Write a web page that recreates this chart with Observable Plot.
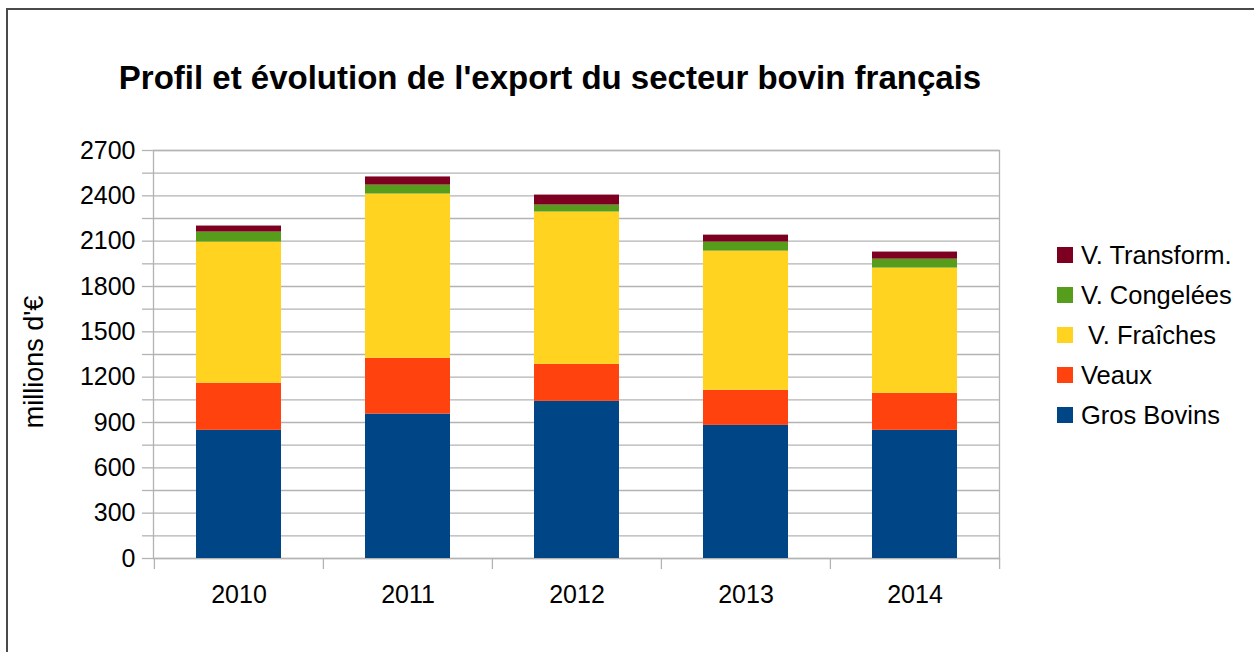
<!DOCTYPE html>
<html>
<head>
<meta charset="utf-8">
<script src="https://cdn.jsdelivr.net/npm/d3@7"></script>
<script src="https://cdn.jsdelivr.net/npm/@observablehq/plot@0.6"></script>
<style>
  html, body { margin: 0; padding: 0; background: #fff; overflow: hidden; }
  #wrap { position: relative; width: 1254px; height: 652px; font-family: "Liberation Sans", Arial, sans-serif; }
  #border { position: absolute; left: 6px; top: 8px; width: 1300px; height: 700px; border: 2px solid #4a4a4a; box-sizing: border-box; }
  #title { position: absolute; left: 0; width: 1100px; top: 59px; text-align: center; font-weight: bold; font-size: 33px; color: #000; white-space: nowrap; }
  #ylabel { position: absolute; left: 34px; top: 362px; transform: translate(-50%, -50%) rotate(-90deg); font-size: 27px; color: #000; white-space: nowrap; }
  #legend { position: absolute; left: 1057px; top: 235px; }
  .row { display: flex; align-items: center; height: 40px; font-size: 25.5px; color: #000; white-space: pre; }
  .sw { width: 16px; height: 16px; margin-right: 8px; flex: none; }
  #chart { position: absolute; left: 0; top: 0; }
</style>
</head>
<body>
<div id="wrap">
  <div id="chart"></div>
  <div id="border"></div>
  <div id="title"></div>
  <div id="ylabel"></div>
  <div id="legend"></div>
</div>
<script>
const title = "Profil et évolution de l'export du secteur bovin français";
const yLabel = "millions d'€";
const years = ["2010", "2011", "2012", "2013", "2014"];
const seriesNames = ["Gros Bovins", "Veaux", " V. Fraîches", "V. Congelées", "V. Transform."];
const seriesColors = ["#004586", "#ff420e", "#ffd320", "#579d1c", "#7e0021"];
const grosBovins = [848, 956, 1040, 881, 848];
const veaux = [312, 369, 245, 232, 245];
const vFraiches = [934, 1087, 1008, 921, 829];
const vCongelees = [66, 59, 46, 60, 59];
const vTransform = [40, 54, 66, 46, 47];
const yTicks = d3.range(0, 2701, 150);

const seriesValues = [grosBovins, veaux, vFraiches, vCongelees, vTransform];
const data = [];
seriesNames.forEach((s, i) => years.forEach((y, j) => data.push({year: y, series: s, value: seriesValues[i][j]})));

const W = 1254, H = 652, mL = 153, mR = 255, mT = 150, mB = 94;
const step = (W - mL - mR) / years.length;

const chart = Plot.plot({
  width: W, height: H,
  marginLeft: mL, marginRight: mR, marginTop: mT, marginBottom: mB,
  style: {fontFamily: "'Liberation Sans', Arial, sans-serif", fontSize: "25px", color: "#000", background: "transparent"},
  x: {domain: years, padding: 0, label: null},
  y: {domain: [0, 2700], label: null},
  color: {domain: seriesNames, range: seriesColors},
  marks: [
    Plot.gridY(yTicks, {stroke: "#b3b3b3", strokeOpacity: 1, strokeWidth: 1.3}),
    Plot.frame({stroke: "#b3b3b3", strokeWidth: 1.3}),
    Plot.barY(data, Plot.stackY({x: "year", y: "value", fill: "series", order: seriesNames, insetLeft: 42, insetRight: 42})),
    Plot.axisY(yTicks, {tickSize: 11, tickPadding: 7, stroke: "#b3b3b3", strokeWidth: 1.3, tickFormat: d => d % 300 === 0 ? String(d) : "", fontSize: 25, fill: "#000", label: null}),
    Plot.axisX({tickSize: 0, tickPadding: 27, fontSize: 25, fill: "#000", label: null}),
    Plot.ruleX(years, {x: d => d, dx: -step / 2, insetTop: H - mT - mB, insetBottom: -11, stroke: "#b3b3b3", strokeWidth: 1.3}),
    Plot.ruleX(years.slice(-1), {x: d => d, dx: step / 2, insetTop: H - mT - mB, insetBottom: -11, stroke: "#b3b3b3", strokeWidth: 1.3})
  ]
});
document.getElementById("chart").appendChild(chart);

document.getElementById("title").textContent = title;
document.getElementById("ylabel").textContent = yLabel;
const legend = document.getElementById("legend");
seriesNames.slice().reverse().forEach(s => {
  const row = document.createElement("div");
  row.className = "row";
  const sw = document.createElement("div");
  sw.className = "sw";
  sw.style.background = seriesColors[seriesNames.indexOf(s)];
  const t = document.createElement("span");
  t.textContent = s;
  row.appendChild(sw);
  row.appendChild(t);
  legend.appendChild(row);
});
</script>
</body>
</html>
